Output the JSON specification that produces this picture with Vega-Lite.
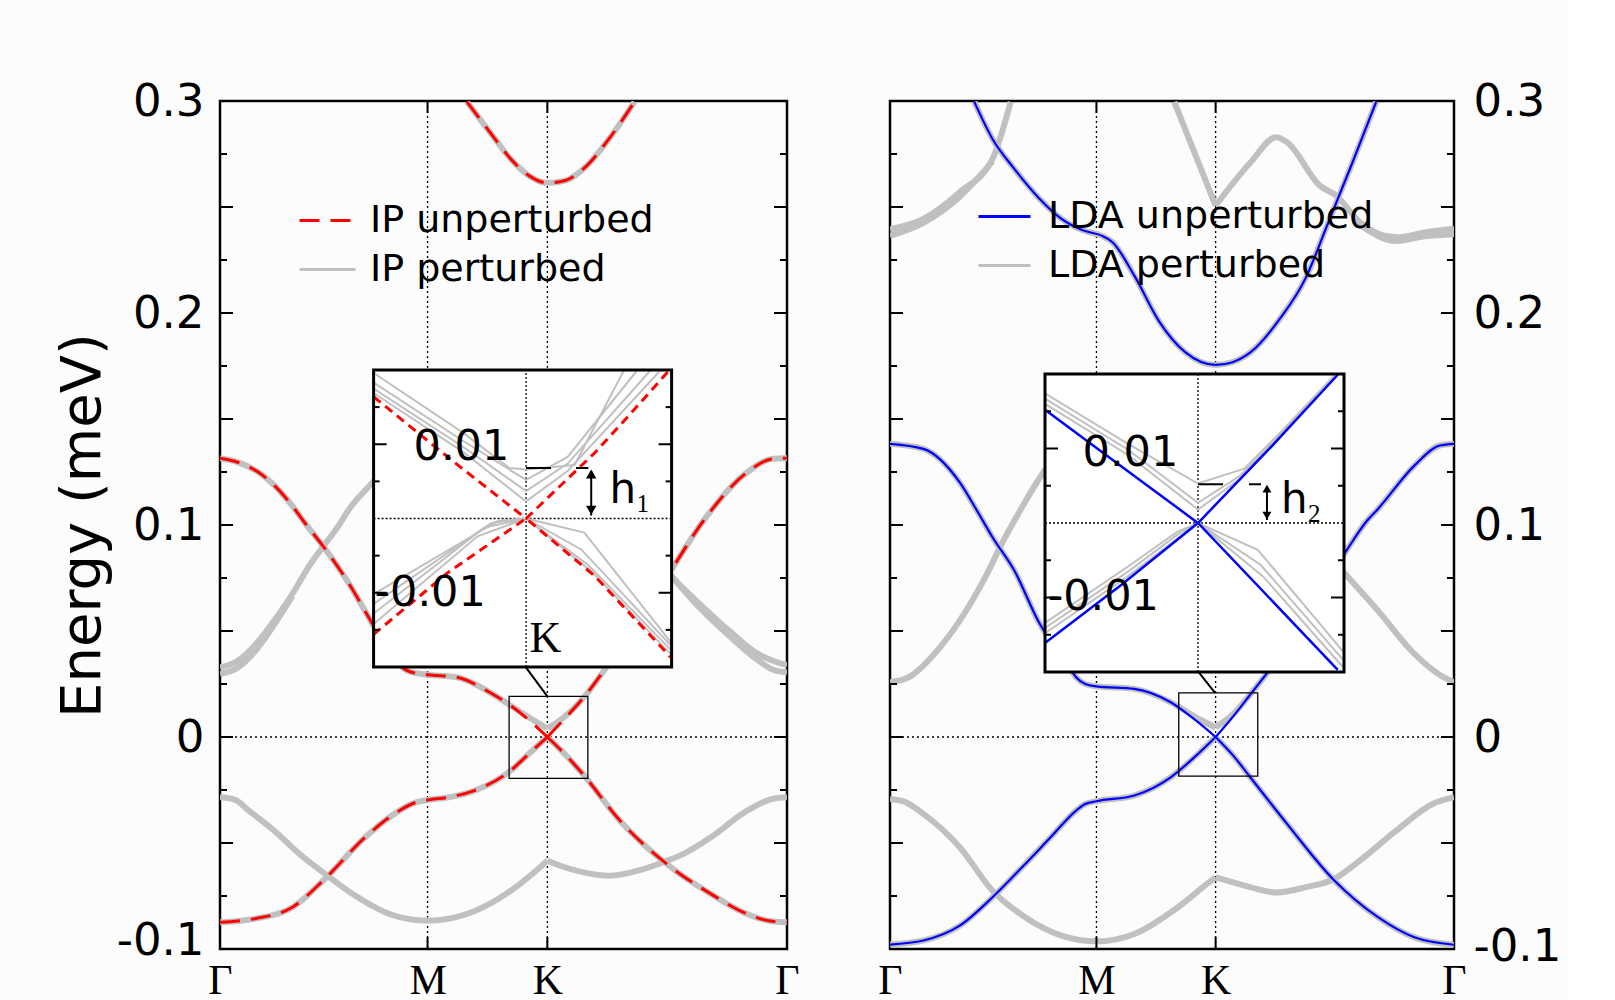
{
"$schema":"https://vega.github.io/schema/vega-lite/v6.json",
"background":"#fcfcfc",
"padding":{"left":52,"top":77,"right":5,"bottom":0},
"bounds":"flush",
"spacing":103,
"config":{
 "font":"DejaVu Sans",
 "view":{"stroke":"black","strokeWidth":2.5},
 "axis":{"grid":false,"domain":false,"ticks":false,"labelColor":"black","titleColor":"black","labelFont":"DejaVu Sans","labelFontSize":45,"titleFont":"DejaVu Sans","titleFontSize":56,"titleFontWeight":"normal","labelFlush":false,"labelOverlap":false},
 "legend":{"labelColor":"black","labelFont":"DejaVu Sans","labelFontSize":38,"labelLimit":0,"padding":0}
},
"resolve":{"scale":{"color":"independent","strokeDash":"independent"},"legend":{"color":"independent","strokeDash":"independent"}},
"datasets":{
 "ytk":[{"E":-0.075,"m":"m"},{"E":-0.05,"m":"M"},{"E":-0.025,"m":"m"},{"E":0,"m":"M"},{"E":0.025,"m":"m"},{"E":0.05,"m":"M"},{"E":0.075,"m":"m"},{"E":0.1,"m":"M"},{"E":0.125,"m":"m"},{"E":0.15,"m":"M"},{"E":0.175,"m":"m"},{"E":0.2,"m":"M"},{"E":0.225,"m":"m"},{"E":0.25,"m":"M"},{"E":0.275,"m":"m"}],
 "itk":[{"E":-0.015,"m":"m"},{"E":-0.01,"m":"M"},{"E":-0.005,"m":"m"},{"E":0.005,"m":"m"},{"E":0.01,"m":"M"},{"E":0.015,"m":"m"}],
 "xtk":[{"k":0.5774},{"k":0.9107}],
 "mainL":[
{"k":0,"E":-0.0874,"b":"Va","s":"u"},{"k":0.05,"E":-0.0868,"b":"Va","s":"u"},{"k":0.1,"E":-0.0856,"b":"Va","s":"u"},{"k":0.2013,"E":-0.0803,"b":"Va","s":"u"},{"k":0.287,"E":-0.0677,"b":"Va","s":"u"},{"k":0.404,"E":-0.0473,"b":"Va","s":"u"},{"k":0.4847,"E":-0.0363,"b":"Va","s":"u"},{"k":0.5456,"E":-0.0308,"b":"Va","s":"u"},{"k":0.5774,"E":-0.0297,"b":"Va","s":"u"},{"k":0.64,"E":-0.0283,"b":"Va","s":"u"},{"k":0.7075,"E":-0.0253,"b":"Va","s":"u"},{"k":0.8087,"E":-0.0158,"b":"Va","s":"u"},{"k":0.86,"E":-0.0078,"b":"Va","s":"u"},{"k":0.9107,"E":0,"b":"Va","s":"u"},
{"k":0.9107,"E":0,"b":"Vb","s":"u"},{"k":0.96,"E":-0.0082,"b":"Vb","s":"u"},{"k":1.011,"E":-0.0178,"b":"Vb","s":"u"},{"k":1.1125,"E":-0.0394,"b":"Vb","s":"u"},{"k":1.249,"E":-0.0607,"b":"Vb","s":"u"},{"k":1.3655,"E":-0.074,"b":"Vb","s":"u"},{"k":1.4669,"E":-0.0835,"b":"Vb","s":"u"},{"k":1.53,"E":-0.0868,"b":"Vb","s":"u"},{"k":1.5774,"E":-0.0874,"b":"Vb","s":"u"},
{"k":0,"E":0.1315,"b":"Ca","s":"u"},{"k":0.0496,"E":0.1296,"b":"Ca","s":"u"},{"k":0.12,"E":0.1233,"b":"Ca","s":"u"},{"k":0.2013,"E":0.109,"b":"Ca","s":"u"},{"k":0.2316,"E":0.102,"b":"Ca","s":"u"},{"k":0.2926,"E":0.0887,"b":"Ca","s":"u"},{"k":0.3533,"E":0.0738,"b":"Ca","s":"u"},{"k":0.424,"E":0.0534,"b":"Ca","s":"u"},{"k":0.47,"E":0.04,"b":"Ca","s":"u"},{"k":0.5253,"E":0.031,"b":"Ca","s":"u"},{"k":0.5774,"E":0.0294,"b":"Ca","s":"u"},{"k":0.657,"E":0.0282,"b":"Ca","s":"u"},{"k":0.758,"E":0.0203,"b":"Ca","s":"u"},{"k":0.8087,"E":0.0148,"b":"Ca","s":"u"},{"k":0.86,"E":0.0079,"b":"Ca","s":"u"},{"k":0.9107,"E":0,"b":"Ca","s":"u"},
{"k":0.9107,"E":0,"b":"Cb","s":"u"},{"k":0.96,"E":0.0088,"b":"Cb","s":"u"},{"k":1.011,"E":0.0185,"b":"Cb","s":"u"},{"k":1.0618,"E":0.0298,"b":"Cb","s":"u"},{"k":1.15,"E":0.0524,"b":"Cb","s":"u"},{"k":1.254,"E":0.0785,"b":"Cb","s":"u"},{"k":1.345,"E":0.102,"b":"Cb","s":"u"},{"k":1.4669,"E":0.1249,"b":"Cb","s":"u"},{"k":1.5376,"E":0.1312,"b":"Cb","s":"u"},{"k":1.5774,"E":0.1315,"b":"Cb","s":"u"},
{"k":0.687,"E":0.2996,"b":"T","s":"u"},{"k":0.758,"E":0.2837,"b":"T","s":"u"},{"k":0.8087,"E":0.2727,"b":"T","s":"u"},{"k":0.8594,"E":0.2648,"b":"T","s":"u"},{"k":0.9107,"E":0.2614,"b":"T","s":"u"},{"k":0.9607,"E":0.2625,"b":"T","s":"u"},{"k":1.011,"E":0.268,"b":"T","s":"u"},{"k":1.082,"E":0.2821,"b":"T","s":"u"},{"k":1.153,"E":0.2996,"b":"T","s":"u"},
{"k":0,"E":-0.0874,"b":"pVa","s":"p"},{"k":0.05,"E":-0.0868,"b":"pVa","s":"p"},{"k":0.1,"E":-0.0856,"b":"pVa","s":"p"},{"k":0.2013,"E":-0.0803,"b":"pVa","s":"p"},{"k":0.287,"E":-0.0677,"b":"pVa","s":"p"},{"k":0.404,"E":-0.0473,"b":"pVa","s":"p"},{"k":0.4847,"E":-0.0363,"b":"pVa","s":"p"},{"k":0.5456,"E":-0.0308,"b":"pVa","s":"p"},{"k":0.5774,"E":-0.0297,"b":"pVa","s":"p"},{"k":0.64,"E":-0.0283,"b":"pVa","s":"p"},{"k":0.7075,"E":-0.0253,"b":"pVa","s":"p"},{"k":0.8087,"E":-0.0158,"b":"pVa","s":"p"},{"k":0.86,"E":-0.0078,"b":"pVa","s":"p"},{"k":0.9107,"E":0,"b":"pVa","s":"p"},
{"k":0.9107,"E":0,"b":"pVb","s":"p"},{"k":0.96,"E":-0.0082,"b":"pVb","s":"p"},{"k":1.011,"E":-0.0178,"b":"pVb","s":"p"},{"k":1.1125,"E":-0.0394,"b":"pVb","s":"p"},{"k":1.249,"E":-0.0607,"b":"pVb","s":"p"},{"k":1.3655,"E":-0.074,"b":"pVb","s":"p"},{"k":1.4669,"E":-0.0835,"b":"pVb","s":"p"},{"k":1.53,"E":-0.0868,"b":"pVb","s":"p"},{"k":1.5774,"E":-0.0874,"b":"pVb","s":"p"},
{"k":0,"E":0.1315,"b":"pCa","s":"p"},{"k":0.0496,"E":0.1296,"b":"pCa","s":"p"},{"k":0.12,"E":0.1233,"b":"pCa","s":"p"},{"k":0.2013,"E":0.109,"b":"pCa","s":"p"},{"k":0.2316,"E":0.102,"b":"pCa","s":"p"},{"k":0.2926,"E":0.0887,"b":"pCa","s":"p"},{"k":0.3533,"E":0.0738,"b":"pCa","s":"p"},{"k":0.424,"E":0.0534,"b":"pCa","s":"p"},{"k":0.47,"E":0.04,"b":"pCa","s":"p"},{"k":0.5253,"E":0.031,"b":"pCa","s":"p"},{"k":0.5774,"E":0.0294,"b":"pCa","s":"p"},{"k":0.657,"E":0.0282,"b":"pCa","s":"p"},{"k":0.758,"E":0.0203,"b":"pCa","s":"p"},{"k":0.8087,"E":0.0148,"b":"pCa","s":"p"},{"k":0.86,"E":0.0092,"b":"pCa","s":"p"},{"k":0.9107,"E":0.004,"b":"pCa","s":"p"},
{"k":0.9107,"E":0.004,"b":"pCb","s":"p"},{"k":0.96,"E":0.0098,"b":"pCb","s":"p"},{"k":1.011,"E":0.0185,"b":"pCb","s":"p"},{"k":1.0618,"E":0.0298,"b":"pCb","s":"p"},{"k":1.15,"E":0.0524,"b":"pCb","s":"p"},{"k":1.254,"E":0.0785,"b":"pCb","s":"p"},{"k":1.345,"E":0.102,"b":"pCb","s":"p"},{"k":1.4669,"E":0.1249,"b":"pCb","s":"p"},{"k":1.5376,"E":0.1312,"b":"pCb","s":"p"},{"k":1.5774,"E":0.1315,"b":"pCb","s":"p"},
{"k":0.687,"E":0.2996,"b":"pT","s":"p"},{"k":0.758,"E":0.2837,"b":"pT","s":"p"},{"k":0.8087,"E":0.2727,"b":"pT","s":"p"},{"k":0.8594,"E":0.2648,"b":"pT","s":"p"},{"k":0.9107,"E":0.2614,"b":"pT","s":"p"},{"k":0.9607,"E":0.2625,"b":"pT","s":"p"},{"k":1.011,"E":0.268,"b":"pT","s":"p"},{"k":1.082,"E":0.2821,"b":"pT","s":"p"},{"k":1.153,"E":0.2996,"b":"pT","s":"p"},
{"k":0,"E":-0.0284,"b":"g1a","s":"p"},{"k":0.04,"E":-0.0295,"b":"g1a","s":"p"},{"k":0.0799,"E":-0.0347,"b":"g1a","s":"p"},{"k":0.1506,"E":-0.0442,"b":"g1a","s":"p"},{"k":0.2216,"E":-0.0552,"b":"g1a","s":"p"},{"k":0.2926,"E":-0.0646,"b":"g1a","s":"p"},{"k":0.3836,"E":-0.0756,"b":"g1a","s":"p"},{"k":0.4847,"E":-0.0842,"b":"g1a","s":"p"},{"k":0.5774,"E":-0.0866,"b":"g1a","s":"p"},{"k":0.6874,"E":-0.0834,"b":"g1a","s":"p"},{"k":0.8087,"E":-0.0725,"b":"g1a","s":"p"},{"k":0.8898,"E":-0.0615,"b":"g1a","s":"p"},{"k":0.9107,"E":-0.0583,"b":"g1a","s":"p"},
{"k":0.9107,"E":-0.0583,"b":"g1b","s":"p"},{"k":0.9607,"E":-0.0615,"b":"g1b","s":"p"},{"k":1.011,"E":-0.0638,"b":"g1b","s":"p"},{"k":1.082,"E":-0.0654,"b":"g1b","s":"p"},{"k":1.163,"E":-0.063,"b":"g1b","s":"p"},{"k":1.244,"E":-0.0583,"b":"g1b","s":"p"},{"k":1.2755,"E":-0.0562,"b":"g1b","s":"p"},{"k":1.3655,"E":-0.0473,"b":"g1b","s":"p"},{"k":1.4669,"E":-0.0347,"b":"g1b","s":"p"},{"k":1.5376,"E":-0.0292,"b":"g1b","s":"p"},{"k":1.5774,"E":-0.0284,"b":"g1b","s":"p"},
{"k":0,"E":0.0329,"b":"g2","s":"p"},{"k":0.0496,"E":0.036,"b":"g2","s":"p"},{"k":0.1,"E":0.0439,"b":"g2","s":"p"},{"k":0.1506,"E":0.0549,"b":"g2","s":"p"},{"k":0.2013,"E":0.0675,"b":"g2","s":"p"},{"k":0.252,"E":0.0817,"b":"g2","s":"p"},{"k":0.2926,"E":0.0911,"b":"g2","s":"p"},{"k":0.333,"E":0.1005,"b":"g2","s":"p"},{"k":0.3533,"E":0.106,"b":"g2","s":"p"},{"k":0.424,"E":0.1201,"b":"g2","s":"p"},{"k":0.5,"E":0.135,"b":"g2","s":"p"},{"k":0.5774,"E":0.145,"b":"g2","s":"p"},{"k":0.75,"E":0.15,"b":"g2","s":"p"},{"k":0.9107,"E":0.14,"b":"g2","s":"p"},{"k":1.1,"E":0.11,"b":"g2","s":"p"},{"k":1.259,"E":0.0753,"b":"g2","s":"p"},{"k":1.315,"E":0.0659,"b":"g2","s":"p"},{"k":1.4162,"E":0.0502,"b":"g2","s":"p"},{"k":1.497,"E":0.0392,"b":"g2","s":"p"},{"k":1.5376,"E":0.036,"b":"g2","s":"p"},{"k":1.5774,"E":0.0339,"b":"g2","s":"p"},
{"k":0,"E":0.0298,"b":"g2b","s":"p"},{"k":0.0496,"E":0.0328,"b":"g2b","s":"p"},{"k":0.1,"E":0.041,"b":"g2b","s":"p"},{"k":0.1506,"E":0.053,"b":"g2b","s":"p"},{"k":0.2013,"E":0.0665,"b":"g2b","s":"p"},
{"k":1.259,"E":0.0753,"b":"g2c","s":"p"},{"k":1.315,"E":0.0645,"b":"g2c","s":"p"},{"k":1.4162,"E":0.0478,"b":"g2c","s":"p"},{"k":1.497,"E":0.0362,"b":"g2c","s":"p"},{"k":1.5376,"E":0.0318,"b":"g2c","s":"p"},{"k":1.5774,"E":0.0305,"b":"g2c","s":"p"}
 ],
 "mainR":[
{"k":0,"E":-0.0979,"b":"Va","s":"u"},{"k":0.0934,"E":-0.096,"b":"Va","s":"u"},{"k":0.195,"E":-0.089,"b":"Va","s":"u"},{"k":0.2867,"E":-0.0756,"b":"Va","s":"u"},{"k":0.3782,"E":-0.0599,"b":"Va","s":"u"},{"k":0.4492,"E":-0.0473,"b":"Va","s":"u"},{"k":0.5206,"E":-0.0347,"b":"Va","s":"u"},{"k":0.546,"E":-0.0316,"b":"Va","s":"u"},{"k":0.5774,"E":-0.0303,"b":"Va","s":"u"},{"k":0.6834,"E":-0.0276,"b":"Va","s":"u"},{"k":0.785,"E":-0.019,"b":"Va","s":"u"},{"k":0.8562,"E":-0.0088,"b":"Va","s":"u"},{"k":0.9107,"E":0,"b":"Va","s":"u"},
{"k":0.9107,"E":0,"b":"Vb","s":"u"},{"k":0.96,"E":-0.0088,"b":"Vb","s":"u"},{"k":1.0087,"E":-0.0192,"b":"Vb","s":"u"},{"k":1.1105,"E":-0.041,"b":"Vb","s":"u"},{"k":1.2428,"E":-0.0677,"b":"Vb","s":"u"},{"k":1.3648,"E":-0.085,"b":"Vb","s":"u"},{"k":1.4666,"E":-0.0945,"b":"Vb","s":"u"},{"k":1.5774,"E":-0.098,"b":"Vb","s":"u"},
{"k":0,"E":0.1383,"b":"Ca","s":"u"},{"k":0.0934,"E":0.1359,"b":"Ca","s":"u"},{"k":0.195,"E":0.1201,"b":"Ca","s":"u"},{"k":0.2459,"E":0.106,"b":"Ca","s":"u"},{"k":0.2867,"E":0.0942,"b":"Ca","s":"u"},{"k":0.3477,"E":0.0785,"b":"Ca","s":"u"},{"k":0.4188,"E":0.0534,"b":"Ca","s":"u"},{"k":0.45,"E":0.045,"b":"Ca","s":"u"},{"k":0.5105,"E":0.0304,"b":"Ca","s":"u"},{"k":0.5206,"E":0.0282,"b":"Ca","s":"u"},{"k":0.546,"E":0.025,"b":"Ca","s":"u"},{"k":0.5774,"E":0.0239,"b":"Ca","s":"u"},{"k":0.6834,"E":0.0227,"b":"Ca","s":"u"},{"k":0.785,"E":0.0164,"b":"Ca","s":"u"},{"k":0.8562,"E":0.0077,"b":"Ca","s":"u"},{"k":0.9107,"E":0,"b":"Ca","s":"u"},
{"k":0.9107,"E":0,"b":"Cb","s":"u"},{"k":0.958,"E":0.0093,"b":"Cb","s":"u"},{"k":1.0087,"E":0.0203,"b":"Cb","s":"u"},{"k":1.0596,"E":0.0313,"b":"Cb","s":"u"},{"k":1.17,"E":0.06,"b":"Cb","s":"u"},{"k":1.2733,"E":0.0871,"b":"Cb","s":"u"},{"k":1.334,"E":0.102,"b":"Cb","s":"u"},{"k":1.3648,"E":0.1076,"b":"Cb","s":"u"},{"k":1.4666,"E":0.128,"b":"Cb","s":"u"},{"k":1.5376,"E":0.1375,"b":"Cb","s":"u"},{"k":1.5774,"E":0.1383,"b":"Cb","s":"u"},
{"k":0.2358,"E":0.2996,"b":"T","s":"u"},{"k":0.2867,"E":0.2821,"b":"T","s":"u"},{"k":0.3477,"E":0.268,"b":"T","s":"u"},{"k":0.4187,"E":0.2538,"b":"T","s":"u"},{"k":0.4797,"E":0.2444,"b":"T","s":"u"},{"k":0.541,"E":0.2389,"b":"T","s":"u"},{"k":0.5916,"E":0.2365,"b":"T","s":"u"},{"k":0.6224,"E":0.2334,"b":"T","s":"u"},{"k":0.6834,"E":0.2176,"b":"T","s":"u"},{"k":0.7544,"E":0.1956,"b":"T","s":"u"},{"k":0.8257,"E":0.1815,"b":"T","s":"u"},{"k":0.9107,"E":0.1755,"b":"T","s":"u"},{"k":0.958,"E":0.1768,"b":"T","s":"u"},{"k":1.0087,"E":0.1815,"b":"T","s":"u"},{"k":1.09,"E":0.1972,"b":"T","s":"u"},{"k":1.1614,"E":0.2161,"b":"T","s":"u"},{"k":1.2224,"E":0.2412,"b":"T","s":"u"},{"k":1.2937,"E":0.2711,"b":"T","s":"u"},{"k":1.3597,"E":0.2996,"b":"T","s":"u"},
{"k":0,"E":-0.0979,"b":"pVa","s":"p"},{"k":0.0934,"E":-0.096,"b":"pVa","s":"p"},{"k":0.195,"E":-0.089,"b":"pVa","s":"p"},{"k":0.2867,"E":-0.0756,"b":"pVa","s":"p"},{"k":0.3782,"E":-0.0599,"b":"pVa","s":"p"},{"k":0.4492,"E":-0.0473,"b":"pVa","s":"p"},{"k":0.5206,"E":-0.0347,"b":"pVa","s":"p"},{"k":0.546,"E":-0.0316,"b":"pVa","s":"p"},{"k":0.5774,"E":-0.0303,"b":"pVa","s":"p"},{"k":0.6834,"E":-0.0276,"b":"pVa","s":"p"},{"k":0.785,"E":-0.019,"b":"pVa","s":"p"},{"k":0.8562,"E":-0.0088,"b":"pVa","s":"p"},{"k":0.9107,"E":0,"b":"pVa","s":"p"},
{"k":0.9107,"E":0,"b":"pVb","s":"p"},{"k":0.96,"E":-0.0088,"b":"pVb","s":"p"},{"k":1.0087,"E":-0.0192,"b":"pVb","s":"p"},{"k":1.1105,"E":-0.041,"b":"pVb","s":"p"},{"k":1.2428,"E":-0.0677,"b":"pVb","s":"p"},{"k":1.3648,"E":-0.085,"b":"pVb","s":"p"},{"k":1.4666,"E":-0.0945,"b":"pVb","s":"p"},{"k":1.5774,"E":-0.098,"b":"pVb","s":"p"},
{"k":0,"E":0.1383,"b":"pCa","s":"p"},{"k":0.0934,"E":0.1359,"b":"pCa","s":"p"},{"k":0.195,"E":0.1201,"b":"pCa","s":"p"},{"k":0.2459,"E":0.106,"b":"pCa","s":"p"},{"k":0.2867,"E":0.0942,"b":"pCa","s":"p"},{"k":0.3477,"E":0.0785,"b":"pCa","s":"p"},{"k":0.4188,"E":0.0534,"b":"pCa","s":"p"},{"k":0.45,"E":0.045,"b":"pCa","s":"p"},{"k":0.5105,"E":0.0304,"b":"pCa","s":"p"},{"k":0.5206,"E":0.0282,"b":"pCa","s":"p"},{"k":0.546,"E":0.025,"b":"pCa","s":"p"},{"k":0.5774,"E":0.0239,"b":"pCa","s":"p"},{"k":0.6834,"E":0.0227,"b":"pCa","s":"p"},{"k":0.785,"E":0.0164,"b":"pCa","s":"p"},{"k":0.8562,"E":0.0092,"b":"pCa","s":"p"},{"k":0.9107,"E":0.0045,"b":"pCa","s":"p"},
{"k":0.9107,"E":0.0045,"b":"pCb","s":"p"},{"k":0.958,"E":0.0105,"b":"pCb","s":"p"},{"k":1.0087,"E":0.0203,"b":"pCb","s":"p"},{"k":1.0596,"E":0.0313,"b":"pCb","s":"p"},{"k":1.17,"E":0.06,"b":"pCb","s":"p"},{"k":1.2733,"E":0.0871,"b":"pCb","s":"p"},{"k":1.334,"E":0.102,"b":"pCb","s":"p"},{"k":1.3648,"E":0.1076,"b":"pCb","s":"p"},{"k":1.4666,"E":0.128,"b":"pCb","s":"p"},{"k":1.5376,"E":0.1375,"b":"pCb","s":"p"},{"k":1.5774,"E":0.1383,"b":"pCb","s":"p"},
{"k":0.2358,"E":0.2996,"b":"pT","s":"p"},{"k":0.2867,"E":0.2821,"b":"pT","s":"p"},{"k":0.3477,"E":0.268,"b":"pT","s":"p"},{"k":0.4187,"E":0.2538,"b":"pT","s":"p"},{"k":0.4797,"E":0.2444,"b":"pT","s":"p"},{"k":0.541,"E":0.2389,"b":"pT","s":"p"},{"k":0.5916,"E":0.2365,"b":"pT","s":"p"},{"k":0.6224,"E":0.2334,"b":"pT","s":"p"},{"k":0.6834,"E":0.2176,"b":"pT","s":"p"},{"k":0.7544,"E":0.1956,"b":"pT","s":"p"},{"k":0.8257,"E":0.1815,"b":"pT","s":"p"},{"k":0.9107,"E":0.1755,"b":"pT","s":"p"},{"k":0.958,"E":0.1768,"b":"pT","s":"p"},{"k":1.0087,"E":0.1815,"b":"pT","s":"p"},{"k":1.09,"E":0.1972,"b":"pT","s":"p"},{"k":1.1614,"E":0.2161,"b":"pT","s":"p"},{"k":1.2224,"E":0.2412,"b":"pT","s":"p"},{"k":1.2937,"E":0.2711,"b":"pT","s":"p"},{"k":1.3597,"E":0.2996,"b":"pT","s":"p"},
{"k":0,"E":-0.0292,"b":"g1a","s":"p"},{"k":0.04,"E":-0.0305,"b":"g1a","s":"p"},{"k":0.0934,"E":-0.0363,"b":"g1a","s":"p"},{"k":0.195,"E":-0.052,"b":"g1a","s":"p"},{"k":0.2867,"E":-0.0725,"b":"g1a","s":"p"},{"k":0.3782,"E":-0.085,"b":"g1a","s":"p"},{"k":0.4797,"E":-0.0937,"b":"g1a","s":"p"},{"k":0.5774,"E":-0.0964,"b":"g1a","s":"p"},{"k":0.6834,"E":-0.0929,"b":"g1a","s":"p"},{"k":0.8053,"E":-0.0803,"b":"g1a","s":"p"},{"k":0.8867,"E":-0.0693,"b":"g1a","s":"p"},{"k":0.9107,"E":-0.0662,"b":"g1a","s":"p"},
{"k":0.9107,"E":-0.0662,"b":"g1b","s":"p"},{"k":0.958,"E":-0.0685,"b":"g1b","s":"p"},{"k":1.0087,"E":-0.0709,"b":"g1b","s":"p"},{"k":1.08,"E":-0.0733,"b":"g1b","s":"p"},{"k":1.1614,"E":-0.0709,"b":"g1b","s":"p"},{"k":1.2428,"E":-0.0669,"b":"g1b","s":"p"},{"k":1.3139,"E":-0.0583,"b":"g1b","s":"p"},{"k":1.4157,"E":-0.0442,"b":"g1b","s":"p"},{"k":1.5175,"E":-0.0316,"b":"g1b","s":"p"},{"k":1.5774,"E":-0.0284,"b":"g1b","s":"p"},
{"k":0,"E":0.0258,"b":"g2","s":"p"},{"k":0.0527,"E":0.0282,"b":"g2","s":"p"},{"k":0.124,"E":0.0392,"b":"g2","s":"p"},{"k":0.195,"E":0.0549,"b":"g2","s":"p"},{"k":0.2663,"E":0.0753,"b":"g2","s":"p"},{"k":0.3172,"E":0.0926,"b":"g2","s":"p"},{"k":0.3477,"E":0.102,"b":"g2","s":"p"},{"k":0.4291,"E":0.1249,"b":"g2","s":"p"},{"k":0.5,"E":0.14,"b":"g2","s":"p"},{"k":0.5774,"E":0.15,"b":"g2","s":"p"},{"k":0.75,"E":0.155,"b":"g2","s":"p"},{"k":0.9107,"E":0.145,"b":"g2","s":"p"},{"k":1.1,"E":0.11,"b":"g2","s":"p"},{"k":1.2733,"E":0.0769,"b":"g2","s":"p"},{"k":1.3648,"E":0.0596,"b":"g2","s":"p"},{"k":1.4666,"E":0.0392,"b":"g2","s":"p"},{"k":1.548,"E":0.0282,"b":"g2","s":"p"},{"k":1.5774,"E":0.0258,"b":"g2","s":"p"},
{"k":0,"E":0.2395,"b":"g3a","s":"p"},{"k":0.0934,"E":0.2444,"b":"g3a","s":"p"},{"k":0.195,"E":0.257,"b":"g3a","s":"p"},{"k":0.2867,"E":0.2727,"b":"g3a","s":"p"},{"k":0.3375,"E":0.2996,"b":"g3a","s":"p"},
{"k":0,"E":0.2364,"b":"g3c","s":"p"},{"k":0.0934,"E":0.2425,"b":"g3c","s":"p"},{"k":0.195,"E":0.2548,"b":"g3c","s":"p"},{"k":0.2867,"E":0.2715,"b":"g3c","s":"p"},
{"k":0.795,"E":0.2996,"b":"g3ba","s":"p"},{"k":0.9107,"E":0.2507,"b":"g3ba","s":"p"},
{"k":0.9107,"E":0.2507,"b":"g3bb","s":"p"},{"k":1.0087,"E":0.2711,"b":"g3bb","s":"p"},{"k":1.08,"E":0.2829,"b":"g3bb","s":"p"},{"k":1.1105,"E":0.2805,"b":"g3bb","s":"p"},{"k":1.202,"E":0.2601,"b":"g3bb","s":"p"},{"k":1.2478,"E":0.2554,"b":"g3bb","s":"p"},{"k":1.3139,"E":0.2428,"b":"g3bb","s":"p"},{"k":1.4157,"E":0.2357,"b":"g3bb","s":"p"},{"k":1.497,"E":0.238,"b":"g3bb","s":"p"},{"k":1.5774,"E":0.2397,"b":"g3bb","s":"p"},
{"k":1.3139,"E":0.2415,"b":"g3d","s":"p"},{"k":1.4157,"E":0.234,"b":"g3d","s":"p"},{"k":1.497,"E":0.2362,"b":"g3d","s":"p"},{"k":1.5774,"E":0.2372,"b":"g3d","s":"p"}
 ],
 "insetL":[
{"dk":-0.11,"E":0.0164,"b":"C","s":"u"},{"dk":-0.054,"E":0.0079,"b":"C","s":"u"},{"dk":0,"E":0,"b":"C","s":"u"},{"dk":0.0493,"E":0.0088,"b":"C","s":"u"},{"dk":0.0734,"E":0.0137,"b":"C","s":"u"},{"dk":0.1034,"E":0.02,"b":"C","s":"u"},
{"dk":-0.11,"E":-0.0156,"b":"V","s":"u"},{"dk":-0.0565,"E":-0.0073,"b":"V","s":"u"},{"dk":0,"E":0,"b":"V","s":"u"},{"dk":0.0493,"E":-0.0077,"b":"V","s":"u"},{"dk":0.105,"E":-0.0188,"b":"V","s":"u"},
{"dk":-0.11,"E":0.0196,"b":"u1","s":"p"},{"dk":-0.045,"E":0.0115,"b":"u1","s":"p"},{"dk":-0.012,"E":0.0068,"b":"u1","s":"p"},{"dk":0,"E":0.0066,"b":"u1","s":"p"},{"dk":0.035,"E":0.0072,"b":"u1","s":"p"},{"dk":0.0707,"E":0.02,"b":"u1","s":"p"},
{"dk":-0.11,"E":0.0183,"b":"u2","s":"p"},{"dk":-0.045,"E":0.0104,"b":"u2","s":"p"},{"dk":0,"E":0.0052,"b":"u2","s":"p"},{"dk":0.03,"E":0.0083,"b":"u2","s":"p"},{"dk":0.0804,"E":0.02,"b":"u2","s":"p"},
{"dk":-0.11,"E":0.0175,"b":"u3","s":"p"},{"dk":-0.045,"E":0.0096,"b":"u3","s":"p"},{"dk":0,"E":0.0037,"b":"u3","s":"p"},{"dk":0.03,"E":0.0074,"b":"u3","s":"p"},{"dk":0.09,"E":0.02,"b":"u3","s":"p"},
{"dk":-0.11,"E":0.0169,"b":"u4","s":"p"},{"dk":-0.045,"E":0.0089,"b":"u4","s":"p"},{"dk":0,"E":0.0023,"b":"u4","s":"p"},{"dk":0.03,"E":0.0064,"b":"u4","s":"p"},{"dk":0.0972,"E":0.02,"b":"u4","s":"p"},
{"dk":-0.11,"E":-0.0102,"b":"l1","s":"p"},{"dk":-0.02,"E":-0.0003,"b":"l1","s":"p"},{"dk":0,"E":0,"b":"l1","s":"p"},{"dk":0.042,"E":-0.0019,"b":"l1","s":"p"},{"dk":0.105,"E":-0.0168,"b":"l1","s":"p"},
{"dk":-0.11,"E":-0.0115,"b":"l2","s":"p"},{"dk":-0.025,"E":-0.0006,"b":"l2","s":"p"},{"dk":0,"E":0,"b":"l2","s":"p"},{"dk":0.04,"E":-0.0042,"b":"l2","s":"p"},{"dk":0.105,"E":-0.0172,"b":"l2","s":"p"},
{"dk":-0.11,"E":-0.0128,"b":"l3","s":"p"},{"dk":-0.03,"E":-0.0012,"b":"l3","s":"p"},{"dk":0,"E":0,"b":"l3","s":"p"},{"dk":0.045,"E":-0.0063,"b":"l3","s":"p"},{"dk":0.105,"E":-0.0178,"b":"l3","s":"p"},
{"dk":-0.11,"E":-0.0142,"b":"l4","s":"p"},{"dk":-0.035,"E":-0.0024,"b":"l4","s":"p"},{"dk":0,"E":0,"b":"l4","s":"p"},{"dk":0.047,"E":-0.0071,"b":"l4","s":"p"},{"dk":0.105,"E":-0.0184,"b":"l4","s":"p"}
 ],
 "insetR":[
{"dk":-0.11,"E":0.0152,"b":"C","s":"u"},{"dk":-0.055,"E":0.0076,"b":"C","s":"u"},{"dk":0,"E":0,"b":"C","s":"u"},{"dk":0.05,"E":0.0097,"b":"C","s":"u"},{"dk":0.1005,"E":0.0199,"b":"C","s":"u"},
{"dk":-0.11,"E":-0.0161,"b":"V","s":"u"},{"dk":-0.055,"E":-0.0083,"b":"V","s":"u"},{"dk":0,"E":0,"b":"V","s":"u"},{"dk":0.05,"E":-0.0098,"b":"V","s":"u"},{"dk":0.1005,"E":-0.0197,"b":"V","s":"u"},
{"dk":-0.11,"E":0.0174,"b":"u1","s":"p"},{"dk":-0.05,"E":0.0106,"b":"u1","s":"p"},{"dk":0,"E":0.0053,"b":"u1","s":"p"},{"dk":0.0333,"E":0.0073,"b":"u1","s":"p"},{"dk":0.06,"E":0.0123,"b":"u1","s":"p"},{"dk":0.099,"E":0.02,"b":"u1","s":"p"},
{"dk":-0.11,"E":0.0167,"b":"u2","s":"p"},{"dk":-0.05,"E":0.0098,"b":"u2","s":"p"},{"dk":0,"E":0.0027,"b":"u2","s":"p"},{"dk":0.03,"E":0.0063,"b":"u2","s":"p"},{"dk":0.06,"E":0.012,"b":"u2","s":"p"},{"dk":0.1,"E":0.02,"b":"u2","s":"p"},
{"dk":-0.11,"E":0.016,"b":"u3","s":"p"},{"dk":-0.05,"E":0.0091,"b":"u3","s":"p"},{"dk":0,"E":0.0018,"b":"u3","s":"p"},{"dk":0.03,"E":0.0059,"b":"u3","s":"p"},{"dk":0.06,"E":0.0118,"b":"u3","s":"p"},{"dk":0.1003,"E":0.02,"b":"u3","s":"p"},
{"dk":-0.11,"E":-0.0134,"b":"l1","s":"p"},{"dk":-0.05,"E":-0.0058,"b":"l1","s":"p"},{"dk":-0.015,"E":-0.0012,"b":"l1","s":"p"},{"dk":0,"E":0,"b":"l1","s":"p"},{"dk":0.043,"E":-0.0036,"b":"l1","s":"p"},{"dk":0.105,"E":-0.0174,"b":"l1","s":"p"},
{"dk":-0.11,"E":-0.0141,"b":"l2","s":"p"},{"dk":-0.05,"E":-0.0065,"b":"l2","s":"p"},{"dk":-0.015,"E":-0.0016,"b":"l2","s":"p"},{"dk":0,"E":0,"b":"l2","s":"p"},{"dk":0.045,"E":-0.0056,"b":"l2","s":"p"},{"dk":0.105,"E":-0.0185,"b":"l2","s":"p"},
{"dk":-0.11,"E":-0.0148,"b":"l3","s":"p"},{"dk":-0.05,"E":-0.0071,"b":"l3","s":"p"},{"dk":0,"E":0,"b":"l3","s":"p"},{"dk":0.047,"E":-0.0072,"b":"l3","s":"p"},{"dk":0.105,"E":-0.0195,"b":"l3","s":"p"}
 ]
},
"hconcat":[
{
 "width":567,"height":848,
 "resolve":{"scale":{"x":"independent","y":"independent"}},
 "layer":[
  {"layer":[
   {"data":{"values":[{}]},"mark":{"type":"rule","strokeDash":[2,3],"strokeWidth":1.3,"color":"black"},"encoding":{"x":{"datum":0.5774,"type":"quantitative","scale":{"domain":[0,1.5774],"nice":false,"zero":false}}}},
   {"data":{"values":[{}]},"mark":{"type":"rule","strokeDash":[2,3],"strokeWidth":1.3,"color":"black"},"encoding":{"x":{"datum":0.9107,"type":"quantitative","scale":{"domain":[0,1.5774],"nice":false,"zero":false}}}},
   {"data":{"values":[{}]},"mark":{"type":"rule","strokeDash":[2,3],"strokeWidth":1.3,"color":"black"},"encoding":{"y":{"datum":0,"type":"quantitative","scale":{"domain":[-0.1,0.3],"nice":false,"zero":false}}}},
   {"data":{"name":"mainL"},"transform":[{"filter":"datum.s=='p'"}],"mark":{"type":"line","strokeWidth":6,"clip":true,"interpolate":"monotone"},
    "encoding":{
     "x":{"field":"k","type":"quantitative","scale":{"domain":[0,1.5774],"nice":false,"zero":false},"axis":{"values":[0,0.5774,0.9107,1.5774],"labelExpr":"datum.value < 0.3 ? 'Γ' : datum.value < 0.7 ? 'M' : datum.value < 1.2 ? 'K' : 'Γ'","labelFont":"Liberation Serif","labelFontSize":42,"labelPadding":11,"title":null}},
     "y":{"field":"E","type":"quantitative","scale":{"domain":[-0.1,0.3],"nice":false,"zero":false},"axis":{"orient":"left","values":[-0.1,0,0.1,0.2,0.3],"labelExpr":"datum.value < -0.05 ? '-0.1' : format(datum.value, '.1~f')","labelPadding":16,"labelOffset":{"condition":{"test":"datum.value < -0.05","value":-9},"value":0},"title":"Energy (meV)","titlePadding":5}},
     "detail":{"field":"b"},
     "color":{"field":"s","type":"nominal","scale":{"domain":["u","p"],"range":["#ff0000","#c0c0c0"]},"legend":{"orient":"none","legendX":78,"legendY":90,"title":null,"symbolType":"stroke","symbolSize":3136,"symbolStrokeWidth":3,"labelOffset":13,"rowPadding":-2,"labelExpr":"datum.label == 'u' ? 'IP unperturbed' : 'IP perturbed'"}},
     "strokeDash":{"field":"s","type":"nominal","scale":{"domain":["u","p"],"range":[[20,11],[1,0]]},"legend":{"orient":"none","legendX":78,"legendY":90,"title":null,"symbolType":"stroke","symbolSize":3136,"symbolStrokeWidth":3,"labelOffset":13,"rowPadding":-2,"labelExpr":"datum.label == 'u' ? 'IP unperturbed' : 'IP perturbed'"}}
    }},
   {"data":{"name":"mainL"},"transform":[{"filter":"datum.s=='u'"}],"mark":{"type":"line","strokeWidth":3,"clip":true,"interpolate":"monotone"},
    "encoding":{
     "x":{"field":"k","type":"quantitative","scale":{"domain":[0,1.5774],"nice":false,"zero":false}},
     "y":{"field":"E","type":"quantitative","scale":{"domain":[-0.1,0.3],"nice":false,"zero":false}},
     "detail":{"field":"b"},
     "color":{"field":"s","type":"nominal","scale":{"domain":["u","p"],"range":["#ff0000","#c0c0c0"]},"legend":{"orient":"none","legendX":78,"legendY":90,"title":null,"symbolType":"stroke","symbolSize":3136,"symbolStrokeWidth":3,"labelOffset":13,"rowPadding":-2,"labelExpr":"datum.label == 'u' ? 'IP unperturbed' : 'IP perturbed'"}},
     "strokeDash":{"field":"s","type":"nominal","scale":{"domain":["u","p"],"range":[[20,11],[1,0]]},"legend":{"orient":"none","legendX":78,"legendY":90,"title":null,"symbolType":"stroke","symbolSize":3136,"symbolStrokeWidth":3,"labelOffset":13,"rowPadding":-2,"labelExpr":"datum.label == 'u' ? 'IP unperturbed' : 'IP perturbed'"}}
    }},
   {"data":{"values":[{}]},"mark":{"type":"rect","filled":false,"color":"black","strokeWidth":1.3},"encoding":{"x":{"datum":0.8043,"type":"quantitative","scale":{"domain":[0,1.5774],"nice":false,"zero":false}},"x2":{"datum":1.0234},"y":{"datum":0.0192,"type":"quantitative","scale":{"domain":[-0.1,0.3],"nice":false,"zero":false}},"y2":{"datum":-0.0195}}},
   {"data":{"values":[{}]},"mark":{"type":"rule","color":"black","strokeWidth":2},"encoding":{"x":{"datum":0.8516,"type":"quantitative","scale":{"domain":[0,1.5774],"nice":false,"zero":false}},"y":{"datum":0.0327,"type":"quantitative","scale":{"domain":[-0.1,0.3],"nice":false,"zero":false}},"x2":{"datum":0.9107},"y2":{"datum":0.0192}}},
   {"data":{"name":"ytk"},"transform":[{"filter":"datum.m=='M'"}],"mark":{"type":"tick","orient":"horizontal","size":13,"thickness":2,"xOffset":6.5,"color":"black","opacity":1},"encoding":{"x":{"datum":0,"type":"quantitative","scale":{"domain":[0,1.5774],"nice":false,"zero":false}},"y":{"field":"E","type":"quantitative","scale":{"domain":[-0.1,0.3],"nice":false,"zero":false}}}},
   {"data":{"name":"ytk"},"transform":[{"filter":"datum.m=='m'"}],"mark":{"type":"tick","orient":"horizontal","size":7,"thickness":2,"xOffset":3.5,"color":"black","opacity":1},"encoding":{"x":{"datum":0,"type":"quantitative","scale":{"domain":[0,1.5774],"nice":false,"zero":false}},"y":{"field":"E","type":"quantitative","scale":{"domain":[-0.1,0.3],"nice":false,"zero":false}}}},
   {"data":{"name":"ytk"},"transform":[{"filter":"datum.m=='M'"}],"mark":{"type":"tick","orient":"horizontal","size":13,"thickness":2,"xOffset":-6.5,"color":"black","opacity":1},"encoding":{"x":{"datum":1.5774,"type":"quantitative","scale":{"domain":[0,1.5774],"nice":false,"zero":false}},"y":{"field":"E","type":"quantitative","scale":{"domain":[-0.1,0.3],"nice":false,"zero":false}}}},
   {"data":{"name":"ytk"},"transform":[{"filter":"datum.m=='m'"}],"mark":{"type":"tick","orient":"horizontal","size":7,"thickness":2,"xOffset":-3.5,"color":"black","opacity":1},"encoding":{"x":{"datum":1.5774,"type":"quantitative","scale":{"domain":[0,1.5774],"nice":false,"zero":false}},"y":{"field":"E","type":"quantitative","scale":{"domain":[-0.1,0.3],"nice":false,"zero":false}}}},
   {"data":{"name":"xtk"},"mark":{"type":"tick","orient":"vertical","size":12,"thickness":2,"yOffset":-6,"color":"black","opacity":1},"encoding":{"x":{"field":"k","type":"quantitative","scale":{"domain":[0,1.5774],"nice":false,"zero":false}},"y":{"datum":-0.1,"type":"quantitative","scale":{"domain":[-0.1,0.3],"nice":false,"zero":false}}}},
   {"data":{"name":"xtk"},"mark":{"type":"tick","orient":"vertical","size":12,"thickness":2,"yOffset":6,"color":"black","opacity":1},"encoding":{"x":{"field":"k","type":"quantitative","scale":{"domain":[0,1.5774],"nice":false,"zero":false}},"y":{"datum":0.3,"type":"quantitative","scale":{"domain":[-0.1,0.3],"nice":false,"zero":false}}}}
  ]},
  {"layer":[
   {"data":{"values":[{}]},"mark":{"type":"rect","color":"#ffffff","opacity":1},"encoding":{"x":{"datum":-0.11,"type":"quantitative","scale":{"domain":[-0.11,0.105],"range":[153.6,451.6],"nice":false,"zero":false},"axis":null},"x2":{"datum":0.105},"y":{"datum":-0.02,"type":"quantitative","scale":{"domain":[-0.02,0.02],"range":[566,269],"nice":false,"zero":false},"axis":null},"y2":{"datum":0.02}}},
   {"data":{"values":[{}]},"mark":{"type":"rule","strokeDash":[2,2],"strokeWidth":1.3,"color":"black"},"encoding":{"x":{"datum":0,"type":"quantitative","axis":null},"y":{"datum":-0.02,"type":"quantitative","axis":null},"y2":{"datum":0.02}}},
   {"data":{"values":[{}]},"mark":{"type":"rule","strokeDash":[2,2],"strokeWidth":1.3,"color":"black"},"encoding":{"y":{"datum":0,"type":"quantitative","axis":null},"x":{"datum":-0.11,"type":"quantitative","axis":null},"x2":{"datum":0.105}}},
   {"data":{"name":"insetL"},"transform":[{"filter":"datum.s=='p'"}],"mark":{"type":"line","color":"#c0c0c0","strokeWidth":2},"encoding":{"x":{"field":"dk","type":"quantitative","axis":null},"y":{"field":"E","type":"quantitative","axis":null},"detail":{"field":"b"}}},
   {"data":{"name":"insetL"},"transform":[{"filter":"datum.s=='u'"}],"mark":{"type":"line","color":"#ff0000","strokeWidth":3,"strokeDash":[9,6]},"encoding":{"x":{"field":"dk","type":"quantitative","axis":null},"y":{"field":"E","type":"quantitative","axis":null},"detail":{"field":"b"}}},
   {"data":{"values":[{}]},"mark":{"type":"rect","filled":false,"color":"black","strokeWidth":3},"encoding":{"x":{"datum":-0.11,"type":"quantitative","axis":null},"x2":{"datum":0.105},"y":{"datum":-0.02,"type":"quantitative","axis":null},"y2":{"datum":0.02}}},
   {"data":{"name":"itk"},"transform":[{"filter":"datum.m=='M'"}],"mark":{"type":"tick","orient":"horizontal","size":13,"thickness":2,"xOffset":6.5,"color":"black","opacity":1},"encoding":{"x":{"datum":-0.11,"type":"quantitative","axis":null},"y":{"field":"E","type":"quantitative","axis":null}}},
   {"data":{"name":"itk"},"transform":[{"filter":"datum.m=='m'"}],"mark":{"type":"tick","orient":"horizontal","size":6,"thickness":2,"xOffset":3,"color":"black","opacity":1},"encoding":{"x":{"datum":-0.11,"type":"quantitative","axis":null},"y":{"field":"E","type":"quantitative","axis":null}}},
   {"data":{"name":"itk"},"transform":[{"filter":"datum.m=='M'"}],"mark":{"type":"tick","orient":"horizontal","size":13,"thickness":2,"xOffset":-6.5,"color":"black","opacity":1},"encoding":{"x":{"datum":0.105,"type":"quantitative","axis":null},"y":{"field":"E","type":"quantitative","axis":null}}},
   {"data":{"name":"itk"},"transform":[{"filter":"datum.m=='m'"}],"mark":{"type":"tick","orient":"horizontal","size":6,"thickness":2,"xOffset":-3,"color":"black","opacity":1},"encoding":{"x":{"datum":0.105,"type":"quantitative","axis":null},"y":{"field":"E","type":"quantitative","axis":null}}},
   {"data":{"values":[{}]},"mark":{"type":"text","text":"0.01","align":"left","baseline":"alphabetic","fontSize":43,"font":"DejaVu Sans","color":"black"},"encoding":{"x":{"datum":-0.0812,"type":"quantitative","axis":null},"y":{"datum":0.0079,"type":"quantitative","axis":null}}},
   {"data":{"values":[{}]},"mark":{"type":"text","text":"-0.01","align":"left","baseline":"alphabetic","fontSize":43,"font":"DejaVu Sans","color":"black"},"encoding":{"x":{"datum":-0.1093,"type":"quantitative","axis":null},"y":{"datum":-0.0118,"type":"quantitative","axis":null}}},
   {"data":{"values":[{}]},"mark":{"type":"text","text":"K","align":"left","baseline":"alphabetic","fontSize":44,"font":"Liberation Serif","color":"black"},"encoding":{"x":{"datum":0.0025,"type":"quantitative","axis":null},"y":{"datum":-0.018,"type":"quantitative","axis":null}}},
   {"data":{"values":[{}]},"mark":{"type":"rule","color":"black","strokeWidth":2},"encoding":{"x":{"datum":0,"type":"quantitative","axis":null},"x2":{"datum":0.018},"y":{"datum":0.0068,"type":"quantitative","axis":null}}},
   {"data":{"values":[{}]},"mark":{"type":"rule","color":"black","strokeWidth":2},"encoding":{"x":{"datum":0.036,"type":"quantitative","axis":null},"x2":{"datum":0.045},"y":{"datum":0.0068,"type":"quantitative","axis":null}}},
   {"data":{"values":[{}]},"mark":{"type":"rule","color":"black","strokeWidth":2},"encoding":{"x":{"datum":0.047,"type":"quantitative","axis":null},"y":{"datum":0.0004,"type":"quantitative","axis":null},"y2":{"datum":0.0064}}},
   {"data":{"values":[{}]},"mark":{"type":"point","shape":"triangle-up","filled":true,"size":110,"color":"black","opacity":1},"encoding":{"x":{"datum":0.047,"type":"quantitative","axis":null},"y":{"datum":0.006,"type":"quantitative","axis":null}}},
   {"data":{"values":[{}]},"mark":{"type":"point","shape":"triangle-down","filled":true,"size":110,"color":"black","opacity":1},"encoding":{"x":{"datum":0.047,"type":"quantitative","axis":null},"y":{"datum":0.0011,"type":"quantitative","axis":null}}},
   {"data":{"values":[{}]},"mark":{"type":"text","text":"h","align":"left","baseline":"alphabetic","fontSize":42,"font":"DejaVu Sans","color":"black"},"encoding":{"x":{"datum":0.0602,"type":"quantitative","axis":null},"y":{"datum":0.0021,"type":"quantitative","axis":null}}},
   {"data":{"values":[{}]},"mark":{"type":"text","text":"1","align":"left","baseline":"alphabetic","fontSize":25,"font":"Liberation Serif","color":"black"},"encoding":{"x":{"datum":0.0797,"type":"quantitative","axis":null},"y":{"datum":0.0009,"type":"quantitative","axis":null}}}
  ]}
 ]
},
{
 "width":564,"height":848,
 "resolve":{"scale":{"x":"independent","y":"independent"}},
 "layer":[
  {"layer":[
   {"data":{"values":[{}]},"mark":{"type":"rule","strokeDash":[2,3],"strokeWidth":1.3,"color":"black"},"encoding":{"x":{"datum":0.5774,"type":"quantitative","scale":{"domain":[0,1.5774],"nice":false,"zero":false}}}},
   {"data":{"values":[{}]},"mark":{"type":"rule","strokeDash":[2,3],"strokeWidth":1.3,"color":"black"},"encoding":{"x":{"datum":0.9107,"type":"quantitative","scale":{"domain":[0,1.5774],"nice":false,"zero":false}}}},
   {"data":{"values":[{}]},"mark":{"type":"rule","strokeDash":[2,3],"strokeWidth":1.3,"color":"black"},"encoding":{"y":{"datum":0,"type":"quantitative","scale":{"domain":[-0.1,0.3],"nice":false,"zero":false}}}},
   {"data":{"name":"mainR"},"transform":[{"filter":"datum.s=='p'"}],"mark":{"type":"line","strokeWidth":6,"clip":true,"interpolate":"monotone"},
    "encoding":{
     "x":{"field":"k","type":"quantitative","scale":{"domain":[0,1.5774],"nice":false,"zero":false},"axis":{"values":[0,0.5774,0.9107,1.5774],"labelExpr":"datum.value < 0.3 ? 'Γ' : datum.value < 0.7 ? 'M' : datum.value < 1.2 ? 'K' : 'Γ'","labelFont":"Liberation Serif","labelFontSize":42,"labelPadding":11,"title":null}},
     "y":{"field":"E","type":"quantitative","scale":{"domain":[-0.1,0.3],"nice":false,"zero":false},"axis":{"orient":"right","values":[-0.1,0,0.1,0.2,0.3],"labelExpr":"datum.value < -0.05 ? '-0.1' : format(datum.value, '.1~f')","labelPadding":19,"labelOffset":{"condition":{"test":"datum.value < -0.05","value":-3},"value":0},"title":null}},
     "detail":{"field":"b"},
     "color":{"field":"s","type":"nominal","scale":{"domain":["u","p"],"range":["#0000ff","#c0c0c0"]},"legend":{"orient":"none","legendX":87,"legendY":88,"title":null,"symbolType":"stroke","symbolSize":2704,"symbolStrokeWidth":3,"labelOffset":16,"rowPadding":2,"labelExpr":"datum.label == 'u' ? 'LDA unperturbed' : 'LDA perturbed'"}}
    }},
   {"data":{"name":"mainR"},"transform":[{"filter":"datum.s=='u'"}],"mark":{"type":"line","strokeWidth":2.2,"clip":true,"interpolate":"monotone"},
    "encoding":{
     "x":{"field":"k","type":"quantitative","scale":{"domain":[0,1.5774],"nice":false,"zero":false}},
     "y":{"field":"E","type":"quantitative","scale":{"domain":[-0.1,0.3],"nice":false,"zero":false}},
     "detail":{"field":"b"},
     "color":{"field":"s","type":"nominal","scale":{"domain":["u","p"],"range":["#0000ff","#c0c0c0"]},"legend":{"orient":"none","legendX":87,"legendY":88,"title":null,"symbolType":"stroke","symbolSize":2704,"symbolStrokeWidth":3,"labelOffset":16,"rowPadding":2,"labelExpr":"datum.label == 'u' ? 'LDA unperturbed' : 'LDA perturbed'"}}
    }},
   {"data":{"values":[{}]},"mark":{"type":"rect","filled":false,"color":"black","strokeWidth":1.3},"encoding":{"x":{"datum":0.8076,"type":"quantitative","scale":{"domain":[0,1.5774],"nice":false,"zero":false}},"x2":{"datum":1.0285},"y":{"datum":0.0208,"type":"quantitative","scale":{"domain":[-0.1,0.3],"nice":false,"zero":false}},"y2":{"datum":-0.0185}}},
   {"data":{"values":[{}]},"mark":{"type":"rule","color":"black","strokeWidth":2},"encoding":{"x":{"datum":0.8643,"type":"quantitative","scale":{"domain":[0,1.5774],"nice":false,"zero":false}},"y":{"datum":0.0304,"type":"quantitative","scale":{"domain":[-0.1,0.3],"nice":false,"zero":false}},"x2":{"datum":0.9091},"y2":{"datum":0.0208}}},
   {"data":{"name":"ytk"},"transform":[{"filter":"datum.m=='M'"}],"mark":{"type":"tick","orient":"horizontal","size":13,"thickness":2,"xOffset":6.5,"color":"black","opacity":1},"encoding":{"x":{"datum":0,"type":"quantitative","scale":{"domain":[0,1.5774],"nice":false,"zero":false}},"y":{"field":"E","type":"quantitative","scale":{"domain":[-0.1,0.3],"nice":false,"zero":false}}}},
   {"data":{"name":"ytk"},"transform":[{"filter":"datum.m=='m'"}],"mark":{"type":"tick","orient":"horizontal","size":7,"thickness":2,"xOffset":3.5,"color":"black","opacity":1},"encoding":{"x":{"datum":0,"type":"quantitative","scale":{"domain":[0,1.5774],"nice":false,"zero":false}},"y":{"field":"E","type":"quantitative","scale":{"domain":[-0.1,0.3],"nice":false,"zero":false}}}},
   {"data":{"name":"ytk"},"transform":[{"filter":"datum.m=='M'"}],"mark":{"type":"tick","orient":"horizontal","size":13,"thickness":2,"xOffset":-6.5,"color":"black","opacity":1},"encoding":{"x":{"datum":1.5774,"type":"quantitative","scale":{"domain":[0,1.5774],"nice":false,"zero":false}},"y":{"field":"E","type":"quantitative","scale":{"domain":[-0.1,0.3],"nice":false,"zero":false}}}},
   {"data":{"name":"ytk"},"transform":[{"filter":"datum.m=='m'"}],"mark":{"type":"tick","orient":"horizontal","size":7,"thickness":2,"xOffset":-3.5,"color":"black","opacity":1},"encoding":{"x":{"datum":1.5774,"type":"quantitative","scale":{"domain":[0,1.5774],"nice":false,"zero":false}},"y":{"field":"E","type":"quantitative","scale":{"domain":[-0.1,0.3],"nice":false,"zero":false}}}},
   {"data":{"name":"xtk"},"mark":{"type":"tick","orient":"vertical","size":12,"thickness":2,"yOffset":-6,"color":"black","opacity":1},"encoding":{"x":{"field":"k","type":"quantitative","scale":{"domain":[0,1.5774],"nice":false,"zero":false}},"y":{"datum":-0.1,"type":"quantitative","scale":{"domain":[-0.1,0.3],"nice":false,"zero":false}}}},
   {"data":{"name":"xtk"},"mark":{"type":"tick","orient":"vertical","size":12,"thickness":2,"yOffset":6,"color":"black","opacity":1},"encoding":{"x":{"field":"k","type":"quantitative","scale":{"domain":[0,1.5774],"nice":false,"zero":false}},"y":{"datum":0.3,"type":"quantitative","scale":{"domain":[-0.1,0.3],"nice":false,"zero":false}}}}
  ]},
  {"layer":[
   {"data":{"values":[{}]},"mark":{"type":"rect","color":"#ffffff","opacity":1},"encoding":{"x":{"datum":-0.11,"type":"quantitative","scale":{"domain":[-0.11,0.105],"range":[155,454],"nice":false,"zero":false},"axis":null},"x2":{"datum":0.105},"y":{"datum":-0.02,"type":"quantitative","scale":{"domain":[-0.02,0.02],"range":[571,273],"nice":false,"zero":false},"axis":null},"y2":{"datum":0.02}}},
   {"data":{"values":[{}]},"mark":{"type":"rule","strokeDash":[2,2],"strokeWidth":1.3,"color":"black"},"encoding":{"x":{"datum":0,"type":"quantitative","axis":null},"y":{"datum":-0.02,"type":"quantitative","axis":null},"y2":{"datum":0.02}}},
   {"data":{"values":[{}]},"mark":{"type":"rule","strokeDash":[2,2],"strokeWidth":1.3,"color":"black"},"encoding":{"y":{"datum":0,"type":"quantitative","axis":null},"x":{"datum":-0.11,"type":"quantitative","axis":null},"x2":{"datum":0.105}}},
   {"data":{"name":"insetR"},"transform":[{"filter":"datum.s=='p'"}],"mark":{"type":"line","color":"#c0c0c0","strokeWidth":2},"encoding":{"x":{"field":"dk","type":"quantitative","axis":null},"y":{"field":"E","type":"quantitative","axis":null},"detail":{"field":"b"}}},
   {"data":{"name":"insetR"},"transform":[{"filter":"datum.s=='u'"}],"mark":{"type":"line","color":"#0000ff","strokeWidth":2.5},"encoding":{"x":{"field":"dk","type":"quantitative","axis":null},"y":{"field":"E","type":"quantitative","axis":null},"detail":{"field":"b"}}},
   {"data":{"values":[{}]},"mark":{"type":"rect","filled":false,"color":"black","strokeWidth":3},"encoding":{"x":{"datum":-0.11,"type":"quantitative","axis":null},"x2":{"datum":0.105},"y":{"datum":-0.02,"type":"quantitative","axis":null},"y2":{"datum":0.02}}},
   {"data":{"name":"itk"},"transform":[{"filter":"datum.m=='M'"}],"mark":{"type":"tick","orient":"horizontal","size":13,"thickness":2,"xOffset":6.5,"color":"black","opacity":1},"encoding":{"x":{"datum":-0.11,"type":"quantitative","axis":null},"y":{"field":"E","type":"quantitative","axis":null}}},
   {"data":{"name":"itk"},"transform":[{"filter":"datum.m=='m'"}],"mark":{"type":"tick","orient":"horizontal","size":6,"thickness":2,"xOffset":3,"color":"black","opacity":1},"encoding":{"x":{"datum":-0.11,"type":"quantitative","axis":null},"y":{"field":"E","type":"quantitative","axis":null}}},
   {"data":{"name":"itk"},"transform":[{"filter":"datum.m=='M'"}],"mark":{"type":"tick","orient":"horizontal","size":13,"thickness":2,"xOffset":-6.5,"color":"black","opacity":1},"encoding":{"x":{"datum":0.105,"type":"quantitative","axis":null},"y":{"field":"E","type":"quantitative","axis":null}}},
   {"data":{"name":"itk"},"transform":[{"filter":"datum.m=='m'"}],"mark":{"type":"tick","orient":"horizontal","size":6,"thickness":2,"xOffset":-3,"color":"black","opacity":1},"encoding":{"x":{"datum":0.105,"type":"quantitative","axis":null},"y":{"field":"E","type":"quantitative","axis":null}}},
   {"data":{"values":[{}]},"mark":{"type":"text","text":"0.01","align":"left","baseline":"alphabetic","fontSize":43,"font":"DejaVu Sans","color":"black"},"encoding":{"x":{"datum":-0.083,"type":"quantitative","axis":null},"y":{"datum":0.0076,"type":"quantitative","axis":null}}},
   {"data":{"values":[{}]},"mark":{"type":"text","text":"-0.01","align":"left","baseline":"alphabetic","fontSize":43,"font":"DejaVu Sans","color":"black"},"encoding":{"x":{"datum":-0.1081,"type":"quantitative","axis":null},"y":{"datum":-0.0117,"type":"quantitative","axis":null}}},
   {"data":{"values":[{}]},"mark":{"type":"rule","color":"black","strokeWidth":2},"encoding":{"x":{"datum":0,"type":"quantitative","axis":null},"x2":{"datum":0.018},"y":{"datum":0.0052,"type":"quantitative","axis":null}}},
   {"data":{"values":[{}]},"mark":{"type":"rule","color":"black","strokeWidth":2},"encoding":{"x":{"datum":0.0367,"type":"quantitative","axis":null},"x2":{"datum":0.0453},"y":{"datum":0.0052,"type":"quantitative","axis":null}}},
   {"data":{"values":[{}]},"mark":{"type":"rule","color":"black","strokeWidth":2},"encoding":{"x":{"datum":0.0496,"type":"quantitative","axis":null},"y":{"datum":0.0004,"type":"quantitative","axis":null},"y2":{"datum":0.0048}}},
   {"data":{"values":[{}]},"mark":{"type":"point","shape":"triangle-up","filled":true,"size":80,"color":"black","opacity":1},"encoding":{"x":{"datum":0.0496,"type":"quantitative","axis":null},"y":{"datum":0.0046,"type":"quantitative","axis":null}}},
   {"data":{"values":[{}]},"mark":{"type":"point","shape":"triangle-down","filled":true,"size":80,"color":"black","opacity":1},"encoding":{"x":{"datum":0.0496,"type":"quantitative","axis":null},"y":{"datum":0.001,"type":"quantitative","axis":null}}},
   {"data":{"values":[{}]},"mark":{"type":"text","text":"h","align":"left","baseline":"alphabetic","fontSize":42,"font":"DejaVu Sans","color":"black"},"encoding":{"x":{"datum":0.0597,"type":"quantitative","axis":null},"y":{"datum":0.0013,"type":"quantitative","axis":null}}},
   {"data":{"values":[{}]},"mark":{"type":"text","text":"2","align":"left","baseline":"alphabetic","fontSize":25,"font":"Liberation Serif","color":"black"},"encoding":{"x":{"datum":0.0791,"type":"quantitative","axis":null},"y":{"datum":0.0001,"type":"quantitative","axis":null}}}
  ]}
 ]
}
]
}
